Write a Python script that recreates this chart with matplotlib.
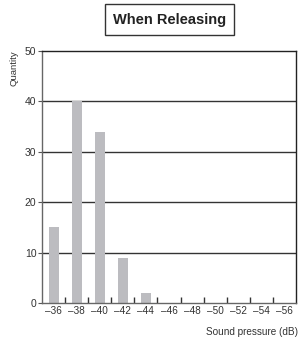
import matplotlib
matplotlib.use('Agg')
import matplotlib.pyplot as plt
import numpy as np

plt.rcParams['font.family'] = ['Liberation Sans', 'DejaVu Sans']

# chart data
pressure = ['–36', '–38', '–40', '–42', '–44', '–46', '–48', '–50', '–52', '–54', '–56']
quantity = [15, 40, 34, 9, 2, 0, 0, 0, 0, 0, 0]
y_ticks = [0, 10, 20, 30, 40, 50]

fig = plt.figure(figsize=(2.99, 3.4), dpi=100)
ax = fig.add_axes([0.1405, 0.1088, 0.8495, 0.741])

x = np.arange(len(pressure))
ax.bar(x, quantity, width=0.43, color='#bcbcc0', zorder=2)

ax.set_xlim(-0.5, len(pressure) - 0.5)
ax.set_ylim(0, 50)

# horizontal grid lines
for y in y_ticks[1:-1]:
    ax.axhline(y, color='#333333', lw=1.0, zorder=1)

ax.set_yticks(y_ticks)
ax.set_yticklabels([str(v) for v in y_ticks], fontsize=7.5, color='#333333')
ax.tick_params(axis='y', length=3, width=0.8, color='#555555', pad=1)

# category labels under the bars, ticks between them pointing up
ax.set_xticks(x)
ax.set_xticklabels(pressure, fontsize=7.2, color='#333333')
ax.tick_params(axis='x', length=0, pad=2)
ax.set_xticks(np.arange(0.5, len(pressure) - 0.5), minor=True)
ax.tick_params(axis='x', which='minor', direction='in', length=4, width=1.0, color='#333333')

for side in ['top', 'right']:
    ax.spines[side].set_color('#222222')
    ax.spines[side].set_linewidth(1.0)
ax.spines['left'].set_color('#666666')
ax.spines['bottom'].set_color('#666666')
ax.spines['left'].set_linewidth(1.0)
ax.spines['bottom'].set_linewidth(1.0)

fig.text(0.047, 0.853, 'Quantity', rotation=90, fontsize=6.8, color='#333333',
         ha='center', va='top')
fig.text(0.997, 0.024, 'Sound pressure (dB)', fontsize=7.2, color='#333333',
         ha='right', va='center')

fig.text(0.567, 0.9426, 'When Releasing', fontsize=10.5, fontweight='bold',
         color='#222222', ha='center', va='center',
         bbox=dict(boxstyle='square,pad=0.55', fc='white', ec='#333333', lw=1.0))

fig.savefig('out.png', dpi=100)
